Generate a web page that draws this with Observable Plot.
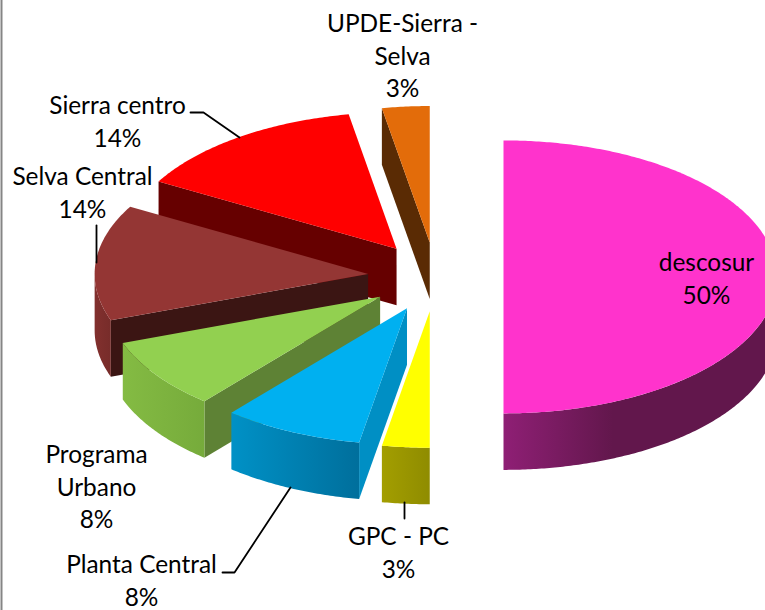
<!DOCTYPE html>
<html>
<head>
<meta charset="utf-8">
<script src="https://cdn.jsdelivr.net/npm/d3@7"></script>
<script src="https://cdn.jsdelivr.net/npm/@observablehq/plot@0.6"></script>
<style>
html,body{margin:0;padding:0;background:#fff;overflow:hidden}
</style>
</head>
<body>
<div id="chart"></div>
<script>
// ---- data ----
const categories = ["descosur","GPC - PC","Planta Central","Programa Urbano","Selva Central","Sierra centro","UPDE-Sierra - Selva"];
const shares = [50.0, 2.8, 8.3, 8.4, 13.7, 14.0, 2.8];

// ---- styles ----
const topColors  = ["#FF33CC","#FFFF00","#00B0F0","#92D050","#943634","#FF0000","#E36C0A"];
const cutColors  = ["#66144F","#99990A","#008FC4","#5E8235","#3B1513","#660000","#5A2B04"];
const wallStart  = ["#8F1F75","#A39E00","#0091C6","#84BB43","#82302E","#800000","#8A4306"];
const wallEnd    = ["#62174C","#8F8C00","#006F9C","#76AB3B","#772C2A","#660000","#5A2B04"];

// ---- layout ----
const W = 765, H = 610;
const cx = 435.2, cy = 276.4, rx = 273.5, ry = 136.5, depth = 56.5;
const explodeX = 67.8, explodeY = 34.5;
const fontSize = 24.4, lineStep = 32.3;
const labelLines = [["descosur"],["GPC - PC"],["Planta Central"],["Programa","Urbano"],["Selva Central"],["Sierra centro"],["UPDE-Sierra -","Selva"]];
const labelX = [706, 398, 141, 96, 82, 117, 402];
const labelY = [263, 537, 565, 455, 177, 106, 24];
const leaders = [
  [[190,112],[203,112],[239,137]],
  [[96,225],[96,262]],
  [[290,487],[234,572],[222,572]],
  [[404,502],[404,518]]
];

// ---- geometry from the shares ----
const total = d3.sum(shares);
const ends = Array.from(d3.cumsum(shares), s => s / total * 2 * Math.PI);
const slices = shares.map((v, i) => {
  const a0 = i ? ends[i-1] : 0, a1 = ends[i], mid = (a0 + a1) / 2;
  return {i, a0, a1, ox: explodeX * Math.sin(mid), oy: -explodeY * Math.cos(mid)};
});
const pt = (s, a, dz = 0) => [cx + s.ox + rx * Math.sin(a), cy + s.oy - ry * Math.cos(a) + dz];
const apex = (s, dz = 0) => [cx + s.ox, cy + s.oy + dz];
const arc = (s, a, b, dz = 0) => {
  const n = Math.max(2, Math.ceil((b - a) / 0.01));
  return d3.range(n + 1).map(k => pt(s, a + (b - a) * k / n, dz));
};

const rows = [];
const add = (id, fill, pts) => pts.forEach(([x, y]) => rows.push({id, fill, x, y}));
// back to front: orange, red, brown, green, blue, yellow, pink
[6,5,4,3,2,1,0].forEach(i => {
  const s = slices[i];
  if (Math.sin(s.a0) < -1e-6)
    add(`start${i}`, cutColors[i], [apex(s), pt(s, s.a0), pt(s, s.a0, depth), apex(s, depth)]);
  if (Math.sin(s.a1) > 1e-6)
    add(`end${i}`, cutColors[i], [apex(s), pt(s, s.a1), pt(s, s.a1, depth), apex(s, depth)]);
  const w0 = Math.max(s.a0, Math.PI / 2), w1 = Math.min(s.a1, 3 * Math.PI / 2);
  if (w1 > w0)
    add(`wall${i}`, `url(#wall${i})`, [...arc(s, w0, w1), ...arc(s, w0, w1, depth).reverse()]);
  add(`top${i}`, topColors[i], [apex(s), ...arc(s, s.a0, s.a1)]);
});

const labels = categories.flatMap((c, i) => {
  const lines = [...labelLines[i], `${Math.round(shares[i])}%`];
  return lines.map((text, k) => ({text, x: labelX[i], y: labelY[i] + k * lineStep}));
});
const leaderRows = leaders.flatMap((l, id) => l.map(([x, y]) => ({id, x, y})));

const defs = () => {
  const d = d3.create("svg:defs");
  categories.forEach((c, i) => {
    const g = d.append("linearGradient").attr("id", `wall${i}`);
    g.append("stop").attr("offset", "0%").attr("stop-color", wallStart[i]);
    g.append("stop").attr("offset", i === 0 ? "40%" : "100%").attr("stop-color", wallEnd[i]);
  });
  return d.node();
};

const chart = Plot.plot({
  width: W, height: H,
  margin: 0,
  x: {domain: [0, W], range: [0, W], axis: null},
  y: {domain: [0, H], range: [0, H], axis: null},
  color: {type: "identity"},
  style: {background: "#fff", fontFamily: "Lato, Carlito, sans-serif"},
  marks: [
    defs,
    Plot.ruleX([1], {stroke: "#858585", strokeWidth: 2}),
    Plot.line(rows, {x: "x", y: "y", z: "id", fill: "fill", stroke: "none", clip: true, curve: "linear"}),
    Plot.line(leaderRows, {x: "x", y: "y", z: "id", stroke: "#000", strokeWidth: 1.8, curve: "linear", strokeLinejoin: "miter"}),
    Plot.text(labels, {x: "x", y: "y", text: "text", fontSize, fill: "#000"})
  ]
});
document.getElementById("chart").appendChild(chart);
</script>
</body>
</html>
